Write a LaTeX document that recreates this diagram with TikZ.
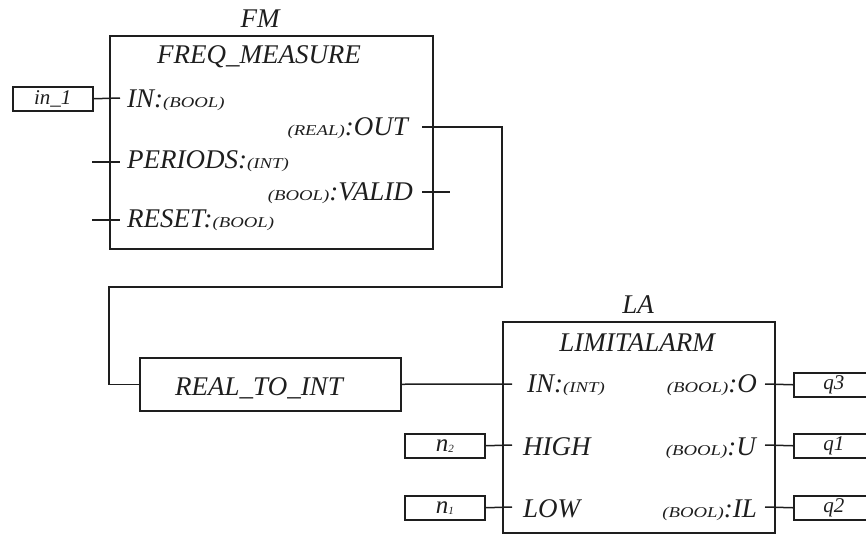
\documentclass[tikz,border=0pt]{standalone}
\usepackage{fontspec}
\setmainfont{Liberation Serif}
\newfontfamily\typef[FakeStretch=1.25]{Liberation Serif}
\definecolor{ink}{RGB}{30,30,30}
\newcommand\ty[1]{{\typef\itshape\fontsize{15}{15}\selectfont(#1)}}
\tikzset{
  wire/.style={draw=ink, line width=1.5pt},
  blk/.style={draw=ink, line width=1.5pt, rectangle, inner sep=0pt},
  lbl/.style={inner sep=0pt, font=\fontsize{27}{27}\selectfont\itshape, text=ink},
  vbox/.style={draw=ink, line width=1.5pt, rectangle, inner sep=0pt, minimum width=80pt, minimum height=24pt, text=ink, font=\fontsize{21}{21}\selectfont\itshape},
}
\begin{document}
\begin{tikzpicture}[x=1pt,y=-1pt]
\useasboundingbox (0,0) rectangle (866,533);
% FM block
\node[blk, anchor=north west, minimum width=323pt, minimum height=213pt] (fm) at (109,35) {};
\node[lbl, anchor=base] (fmname) at (260,27) {FM};
\node[lbl, anchor=base] (fmtype) at (259,63) {FREQ\_MEASURE};
\node[lbl, anchor=base west] (fmin) at (127,107) {IN:\ty{BOOL}};
\node[lbl, anchor=base west] (fmper) at (127,168) {PERIODS:\ty{INT}};
\node[lbl, anchor=base west] (fmres) at (127,227) {RESET:\ty{BOOL}};
\node[lbl, anchor=base east] (fmout) at (408,135) {\ty{REAL}:OUT};
\node[lbl, anchor=base east] (fmval) at (413,200) {\ty{BOOL}:VALID};
\node[vbox, anchor=north west] (in1) at (12,86) {in\_1};
% pins FM
\coordinate (fmINp) at (120,98);
\coordinate (perA) at (92,162); \coordinate (perB) at (120,162);
\coordinate (resA) at (92,220); \coordinate (resB) at (120,220);
\coordinate (outA) at (422,127);
\coordinate (valA) at (422,192); \coordinate (valB) at (450,192);
\coordinate (bend1) at (502,287); \coordinate (bend2) at (109,287);
\draw[wire] (in1.east) -- (fmINp);
\draw[wire] (perA) -- (perB);
\draw[wire] (resA) -- (resB);
\draw[wire] (valA) -- (valB);
% REAL_TO_INT
\node[blk, anchor=north west, minimum width=261pt, minimum height=53pt] (rti) at (139,357) {};
\node[lbl, anchor=base] (rtitext) at (259,395) {REAL\_TO\_INT};
\draw[wire] (outA) -| (bend1) -- (bend2) |- (rti.west);
% LA block
\node[blk, anchor=north west, minimum width=272pt, minimum height=211pt] (la) at (502,321) {};
\node[lbl, anchor=base] (laname) at (638,313) {LA};
\node[lbl, anchor=base] (latype) at (637,351) {LIMITALARM};
\node[lbl, anchor=base west] (lain) at (527,392) {IN:\ty{INT}};
\node[lbl, anchor=base west] (lahigh) at (523,455) {HIGH};
\node[lbl, anchor=base west] (lalow) at (523,517) {LOW};
\node[lbl, anchor=base east] (lao) at (757,392) {\ty{BOOL}:O};
\node[lbl, anchor=base east] (lau) at (756,455) {\ty{BOOL}:U};
\node[lbl, anchor=base east] (lail) at (757,517) {\ty{BOOL}:IL};
\node[vbox, anchor=north west] (n2) at (404,433) {{\fontsize{25}{25}\selectfont n}\raisebox{-1pt}{\fontsize{11}{11}\selectfont 2}};
\node[vbox, anchor=north west] (n1) at (404,495) {{\fontsize{25}{25}\selectfont n}\raisebox{-1pt}{\fontsize{11}{11}\selectfont 1}};
\node[vbox, anchor=north west] (q3) at (793,372) {q3};
\node[vbox, anchor=north west] (q1) at (793,433) {q1};
\node[vbox, anchor=north west] (q2) at (793,495) {q2};
\coordinate (laIN) at (512,384);
\coordinate (laHI) at (512,445);
\coordinate (laLO) at (512,507);
\coordinate (laO) at (765,384);
\coordinate (laU) at (765,445);
\coordinate (laIL) at (765,507);
\draw[wire] (rti.east) -- (laIN);
\draw[wire] (n2.east) -- (laHI);
\draw[wire] (n1.east) -- (laLO);
\draw[wire] (laO) -- (q3.west);
\draw[wire] (laU) -- (q1.west);
\draw[wire] (laIL) -- (q2.west);
\end{tikzpicture}
\end{document}
